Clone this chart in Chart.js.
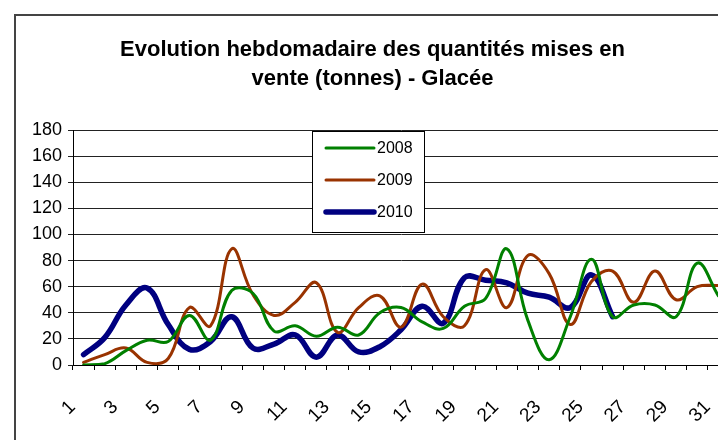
<!DOCTYPE html>
<html>
<head>
<meta charset="utf-8">
<script src="https://cdn.jsdelivr.net/npm/chart.js@4.4.0/dist/chart.umd.min.js"></script>
<style>
html, body { margin: 0; padding: 0; width: 718px; height: 440px; overflow: hidden; background: #fff; }
#frame { position: absolute; left: 14px; top: 14px; width: 704px; height: 426px; border-left: 2px solid #444; border-top: 2px solid #444; overflow: hidden; }
#chart { display: block; }
</style>
</head>
<body>
<div id="frame"><canvas id="chart" width="716" height="440"></canvas></div>
<script>
const weeks = ["1","2","3","4","5","6","7","8","9","10","11","12","13","14","15","16",
  "17","18","19","20","21","22","23","24","25","26","27","28","29","30","31"];

const y2008 = [0, 1, 11, 19, 18, 38, 19, 57, 55, 26, 30, 22, 29, 23, 40, 44,
  33, 28, 45, 51, 89, 34, 4, 37, 81, 37, 46, 46, 37, 78, 53];
const y2009 = [2, 8, 13, 2, 5, 44, 30, 89, 54, 38, 48, 63, 25, 44, 53, 29,
  62, 37, 30, 73, 44, 84, 70, 31, 64, 72, 48, 72, 50, 60, 61];
const y2010 = [8, 21, 46, 59, 31, 12, 18, 37, 13, 16, 23, 6, 23, 10, 14, 27,
  45, 32, 67, 65, 63, 55, 52, 44, 69, 37];

const titleLines = ["Evolution hebdomadaire des quantités mises en", "vente (tonnes) - Glacée"];

const font = '"Liberation Sans", Arial, sans-serif';

// legend drawn as a box inside the plot, like the excel one
const legendBox = {
  id: 'legendBox',
  afterDraw(chart) {
    const ctx = chart.ctx;
    const x = 296, y = 115, w = 112, h = 101;
    ctx.save();
    ctx.fillStyle = '#fff';
    ctx.fillRect(x, y, w, h);
    ctx.strokeStyle = '#000';
    ctx.lineWidth = 1;
    ctx.strokeRect(x + 0.5, y + 0.5, w, h);
    ctx.font = '16px ' + font;
    ctx.textBaseline = 'middle';
    chart.data.datasets.forEach((ds, i) => {
      const ly = y + 17 + i * 32;
      ctx.strokeStyle = ds.borderColor;
      ctx.lineWidth = ds.borderWidth;
      ctx.lineCap = 'round';
      ctx.beginPath();
      ctx.moveTo(x + 14, ly);
      ctx.lineTo(x + 62, ly);
      ctx.stroke();
      ctx.fillStyle = '#000';
      ctx.fillText(ds.label, x + 65, ly + 1);
    });
    ctx.restore();
  }
};

const ctx = document.getElementById('chart').getContext('2d');

const chart = new Chart(ctx, {
  type: 'line',
  data: {
    labels: weeks,
    datasets: [
      { label: '2008', data: y2008, borderColor: '#008000', borderWidth: 3 },
      { label: '2009', data: y2009, borderColor: '#993300', borderWidth: 3 },
      { label: '2010', data: y2010, borderColor: '#000080', borderWidth: 5.5 }
    ]
  },
  options: {
    responsive: false,
    animation: false,
    devicePixelRatio: 1,
    layout: { padding: { left: 0, right: 3, top: 0, bottom: 0 } },
    elements: {
      point: { radius: 0 },
      line: { tension: 0.4, borderCapStyle: 'round', borderJoinStyle: 'round' }
    },
    plugins: {
      legend: { display: false },
      tooltip: { enabled: false },
      title: {
        display: true,
        text: titleLines,
        color: '#000',
        font: { family: font, size: 22, weight: 'bold', lineHeight: 1.32 },
        padding: { top: 19, bottom: 37 }
      }
    },
    scales: {
      x: {
        offset: true,
        grid: { offset: true, drawOnChartArea: false, tickLength: 5, color: '#000' },
        border: { color: '#000', width: 1 },
        ticks: {
          autoSkip: false,
          minRotation: 45,
          maxRotation: 45,
          padding: 26,
          labelOffset: -11,
          color: '#000',
          font: { family: font, size: 19 },
          callback: function(v, i) { return i % 2 === 0 ? weeks[i] : ''; }
        },
        afterFit: function(s) {
          s.height = 91;
          s.paddingLeft = 0;
          s.paddingRight = 0;
        }
      },
      y: {
        min: 0,
        max: 180,
        ticks: { stepSize: 20, padding: 6, color: '#000', font: { family: font, size: 18 } },
        grid: { color: '#222', lineWidth: 1, tickLength: 5 },
        border: { color: '#000', width: 1 },
        afterFit: function(s) { s.width = 57; }
      }
    }
  },
  plugins: [legendBox]
});
</script>
</body>
</html>
